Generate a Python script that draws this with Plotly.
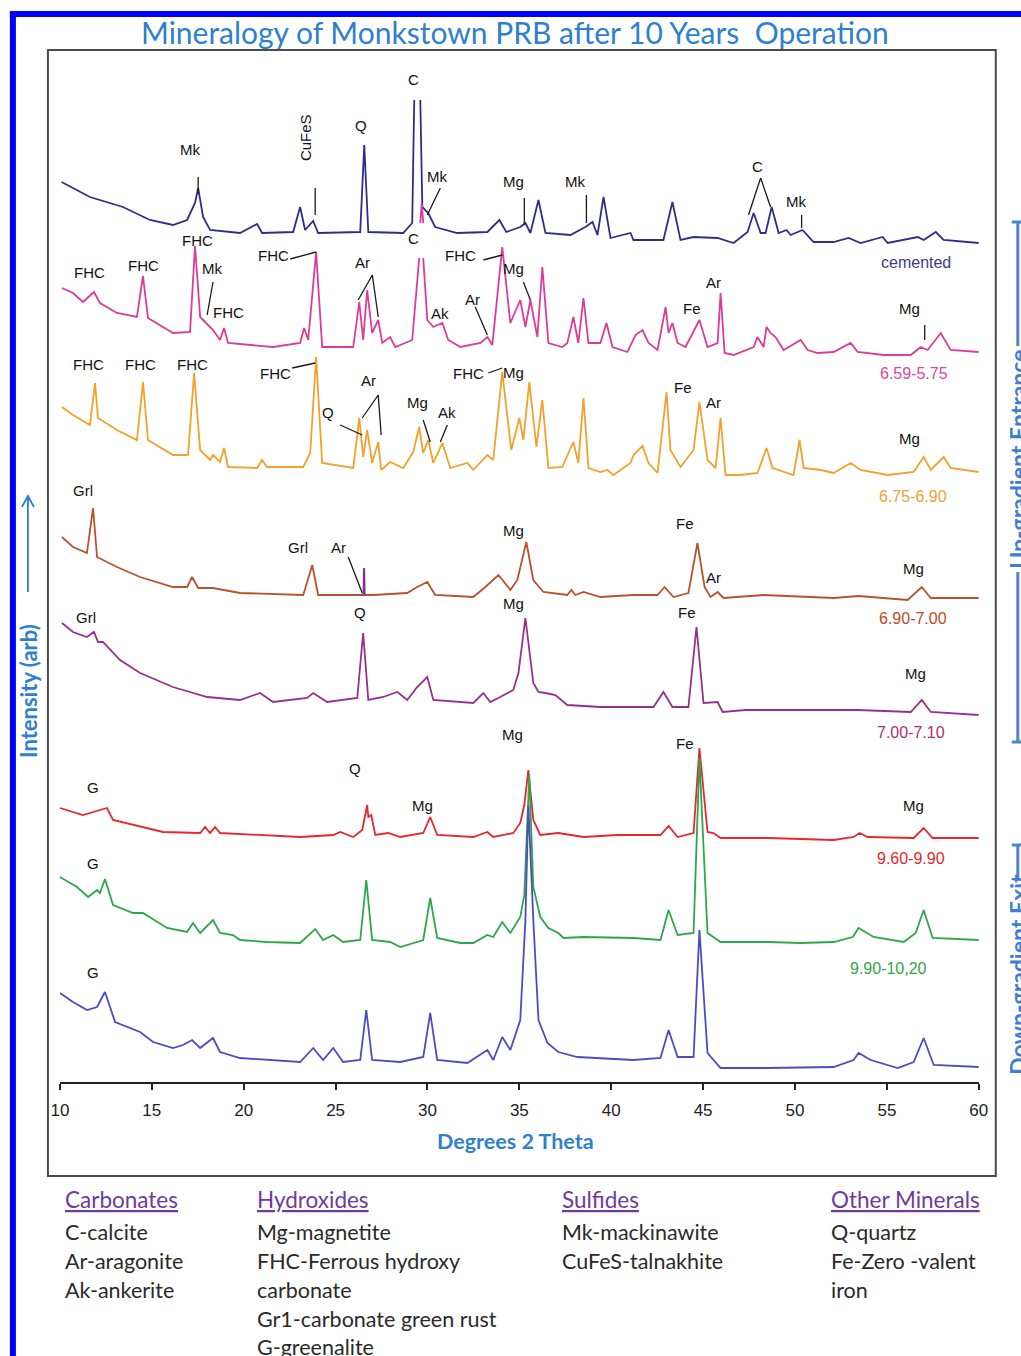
import plotly.graph_objects as go

# ---------------- data : (degrees 2-theta, stacked intensity in arb. units) ----------------
cemented = [(10.09, 900), (11.63, 885), (13.43, 875), (14.90, 862), (16.15, 857), (16.92, 862), (17.35, 879),
            (17.52, 894), (17.79, 865), (18.17, 852), (19.80, 849), (20.73, 858), (21.00, 849), (22.69, 850),
            (23.07, 875), (23.34, 852), (23.78, 861), (24.05, 849), (26.34, 850), (26.56, 937), (26.78, 850),
            (28.68, 849), (29.17, 859), (29.28, 982), (29.45, None), (29.61, 982), (29.72, 875), (30.04, 869),
            (30.42, 855), (31.62, 849), (33.26, 850), (33.91, 862), (34.29, 850), (35.05, 855), (35.33, 859),
            (35.60, 849), (36.04, 882), (36.42, 849), (37.78, 847), (38.59, 855), (38.98, 860), (39.25, 847),
            (39.58, 885), (39.96, 844), (41.05, 849), (41.21, 842), (42.84, 842), (43.33, 880), (43.77, 842),
            (44.48, 845), (45.79, 844), (46.66, 839), (47.42, 850), (47.75, 869), (48.13, 849), (48.40, 849),
            (48.73, 875), (49.11, 849), (49.54, 852), (49.76, 847), (50.41, 852), (51.01, 840), (52.10, 840),
            (52.92, 844), (53.57, 839), (54.77, 845), (55.04, 839), (56.68, 845), (57.00, 842), (57.66, 850),
            (58.09, 842), (60.00, 839)]

s_659_575 = [(10.11, 794), (10.71, 789), (11.25, 780), (11.85, 790), (12.18, 779), (13.10, 769), (14.19, 765),
             (14.52, 806), (14.79, 764), (16.15, 749), (17.08, 750), (17.35, 836), (17.63, 765), (18.33, 752),
             (18.71, 742), (18.93, 754), (19.15, 739), (21.60, 735), (23.07, 739), (23.29, 754), (23.51, 742),
             (23.94, 830), (24.27, 735), (25.96, 735), (26.29, 780), (26.50, 742), (26.72, 792), (26.99, 749),
             (27.32, 762), (27.54, 739), (27.97, 745), (28.25, 735), (29.17, 742), (29.55, 824), (29.58, None),
             (29.61, 859), (29.69, 879), (29.77, 859), (29.77, None), (29.77, 824), (29.99, 762), (30.32, 755),
             (30.81, 759), (31.13, 742), (31.79, 735), (32.88, 739), (33.26, 745), (33.53, 737), (34.07, 835),
             (34.51, 759), (35.05, 782), (35.33, 755), (35.60, 782), (35.98, 745), (36.25, 815), (36.58, 739),
             (37.34, 735), (37.61, 739), (37.94, 765), (38.21, 739), (38.49, 784), (38.76, 739), (39.41, 739),
             (39.74, 759), (40.07, 735), (40.88, 730), (41.32, 747), (41.70, 752), (42.03, 739), (42.52, 732),
             (42.96, 775), (43.12, 749), (43.33, 759), (43.61, 739), (44.04, 735), (44.80, 762), (45.24, 735),
             (45.79, 739), (45.95, 789), (46.17, 729), (46.66, 727), (47.75, 735), (47.96, 745), (48.29, 735),
             (48.45, 755), (48.67, 749), (48.94, 745), (49.38, 732), (50.31, 742), (50.69, 732), (51.23, 729),
             (52.10, 730), (53.03, 739), (53.41, 730), (54.83, 727), (56.30, 727), (56.84, 735), (57.22, 732),
             (57.93, 749), (58.47, 732), (60.00, 730)]

s_675_690 = [(10.11, 675), (10.71, 667), (11.63, 657), (11.91, 699), (12.07, 664), (13.10, 652), (14.19, 642),
             (14.52, 700), (14.79, 642), (16.15, 627), (16.97, 627), (17.30, 709), (17.63, 632), (18.17, 622),
             (18.33, 627), (18.71, 620), (18.93, 634), (19.15, 615), (20.73, 614), (21.00, 622), (21.27, 615),
             (23.24, 615), (23.62, 629), (23.94, 725), (24.27, 619), (25.96, 614), (26.29, 664), (26.50, 625),
             (26.72, 652), (26.99, 619), (27.32, 640), (27.48, 612), (27.97, 620), (28.68, 614), (29.23, 630),
             (29.55, 655), (29.77, 629), (30.04, 642), (30.32, 619), (30.81, 639), (31.24, 614), (32.17, 619),
             (32.49, 612), (33.26, 627), (33.58, 622), (34.07, 710), (34.56, 632), (35.00, 664), (35.22, 642),
             (35.54, 700), (35.93, 635), (36.25, 682), (36.58, 614), (37.34, 615), (37.67, 629), (37.94, 640),
             (38.21, 619), (38.49, 684), (38.76, 614), (39.41, 610), (39.79, 612), (40.12, 607), (41.05, 619),
             (41.21, 627), (41.70, 636), (42.03, 619), (42.52, 609), (43.01, 690), (43.22, 632), (43.77, 615),
             (44.48, 632), (44.80, 680), (45.24, 622), (45.68, 614), (45.95, 664), (46.22, 607), (47.04, 607),
             (47.96, 609), (48.45, 634), (48.78, 614), (49.92, 607), (50.25, 642), (50.47, 614), (51.39, 612),
             (52.10, 609), (53.03, 619), (53.57, 612), (55.04, 607), (56.46, 610), (57.00, 625), (57.39, 612),
             (58.09, 625), (58.47, 614), (60.00, 610)]

s_690_700 = [(10.11, 545), (10.71, 535), (11.47, 529), (11.80, 574), (12.02, 525), (13.10, 515), (14.36, 505),
             (16.15, 495), (16.92, 495), (17.19, 505), (17.52, 494), (18.33, 494), (19.80, 489), (23.24, 487),
             (23.73, 517), (24.05, 487), (26.18, 487), (27.05, 487), (28.90, 489), (29.44, 495), (29.99, 500),
             (30.42, 487), (32.49, 485), (33.15, 495), (33.86, 507), (34.51, 492), (34.89, 502), (35.38, 540),
             (35.76, 502), (36.31, 490), (37.61, 487), (37.83, 492), (38.05, 487), (38.49, 490), (39.41, 485),
             (41.21, 487), (42.52, 487), (42.90, 495), (43.39, 485), (44.20, 489), (44.69, 539), (45.08, 495),
             (45.40, 485), (45.79, 490), (46.11, 484), (48.29, 487), (52.10, 484), (53.46, 486), (56.13, 482),
             (56.90, 495), (57.39, 484), (60.00, 484)]

aragonite_spike = [(26.52, 487), (26.55, 514), (26.58, 487)]

s_700_710 = [(10.11, 459), (10.71, 450), (11.47, 445), (11.85, 450), (12.07, 440), (12.34, 440), (13.27, 422),
             (14.36, 409), (16.15, 395), (18.01, 385), (19.80, 382), (20.89, 389), (21.60, 380), (23.45, 384),
             (23.78, 389), (24.54, 380), (26.18, 384), (26.50, 449), (26.78, 382), (27.59, 385), (28.36, 390),
             (28.90, 382), (29.44, 395), (29.99, 405), (30.32, 382), (32.49, 379), (33.04, 389), (33.42, 380),
             (33.96, 385), (34.67, 392), (34.95, 409), (35.33, 464), (35.76, 399), (36.04, 390), (36.42, 389),
             (36.96, 387), (37.61, 377), (39.41, 375), (42.30, 375), (42.84, 390), (43.33, 375), (44.20, 375),
             (44.64, 455), (45.02, 379), (45.79, 380), (46.06, 370), (47.31, 372), (50.31, 372), (53.41, 372),
             (56.30, 370), (56.90, 382), (57.39, 370), (60.00, 367)]

s_960_990 = [(10.00, 274), (11.25, 267), (12.18, 272), (12.56, 274), (12.89, 262), (13.98, 257), (15.61, 250),
             (17.63, 249), (17.90, 255), (18.17, 249), (18.44, 255), (18.71, 249), (20.89, 247), (23.07, 245),
             (24.87, 247), (25.25, 250), (25.96, 245), (26.45, 252), (26.72, 277), (26.78, 265), (26.94, 267),
             (27.16, 247), (27.86, 249), (28.52, 245), (29.77, 249), (30.15, 265), (30.53, 247), (32.49, 245),
             (33.26, 250), (33.58, 245), (34.67, 249), (35.05, 259), (35.27, 277), (35.49, 312), (35.76, 262),
             (36.14, 247), (37.12, 249), (38.49, 245), (40.34, 247), (42.68, 247), (43.12, 256), (43.61, 245),
             (44.48, 249), (44.80, 334), (45.24, 250), (45.57, 249), (45.95, 244), (48.51, 244), (52.10, 242),
             (53.19, 245), (53.52, 249), (53.95, 245), (56.46, 244), (57.00, 254), (57.49, 244), (60.00, 244)]

s_990_1020 = [(10.00, 205), (10.93, 195), (11.53, 185), (12.02, 192), (12.18, 189), (12.45, 203), (12.89, 177),
              (13.98, 169), (14.52, 169), (15.83, 154), (16.92, 150), (17.24, 159), (17.63, 149), (18.33, 162),
              (18.71, 149), (19.42, 147), (19.80, 142), (21.27, 140), (23.07, 139), (23.89, 153), (24.32, 142),
              (24.87, 147), (25.41, 140), (26.34, 142), (26.67, 202), (26.99, 142), (27.97, 140), (28.52, 135),
              (29.77, 142), (30.15, 184), (30.53, 144), (31.79, 139), (32.49, 139), (33.26, 147), (33.58, 145),
              (34.07, 160), (34.51, 149), (35.05, 165), (35.27, 187), (35.54, 307), (35.76, 195), (36.14, 165),
              (36.58, 154), (37.12, 149), (37.40, 144), (38.49, 145), (41.21, 144), (42.68, 142), (43.12, 172),
              (43.61, 147), (44.48, 149), (44.80, 324), (45.24, 149), (45.95, 140), (48.51, 140), (50.31, 139),
              (52.10, 140), (53.14, 145), (53.46, 154), (54.28, 145), (55.92, 140), (56.57, 149), (57.00, 172),
              (57.49, 144), (60.00, 142)]

s_1020_1050 = [(10.00, 89), (10.71, 80), (11.47, 72), (12.02, 75), (12.45, 90), (13.00, 60), (14.36, 50),
               (15.07, 40), (16.15, 34), (16.70, 37), (17.19, 42), (17.63, 34), (18.33, 44), (18.71, 30),
               (19.80, 24), (23.07, 20), (23.78, 34), (24.32, 22), (24.87, 34), (25.41, 20), (26.34, 22),
               (26.67, 72), (26.99, 22), (28.52, 20), (29.77, 25), (30.15, 69), (30.53, 22), (32.17, 19),
               (33.26, 32), (33.58, 22), (34.07, 45), (34.51, 32), (35.05, 62), (35.33, 162), (35.49, 277),
               (35.76, 162), (36.04, 62), (36.53, 39), (37.12, 30), (38.16, 25), (41.21, 22), (42.68, 24),
               (43.12, 52), (43.61, 25), (44.48, 25), (44.80, 152), (45.24, 29), (45.95, 14), (48.51, 14),
               (52.10, 15), (53.19, 22), (53.46, 29), (54.12, 22), (55.59, 14), (56.46, 20), (57.00, 44),
               (57.55, 17), (60.00, 15)]

sample_names = ["cemented", "6.59-5.75", "6.75-6.90", "6.90-7.00", "7.00-7.10",
                "9.60-9.90", "9.90-10,20", "10.20-10.50"]
sample_series = [cemented, s_659_575, s_675_690, s_690_700, s_700_710, s_960_990, s_990_1020, s_1020_1050]

tick_values = [10, 15, 20, 25, 30, 35, 40, 45, 50, 55, 60]

# peak identifications: (label, 2-theta, intensity, angle)
peak_labels = [
    ("Mk", 17.08, 933, 0), ("CuFeS", 23.34, 944, -90), ("Q", 26.39, 957, 0), ("C", 29.23, 1003, 0),
    ("Mk", 30.53, 906, 0), ("Mg", 34.67, 901, 0), ("Mk", 38.05, 901, 0), ("C", 47.96, 916, 0), ("Mk", 50.03, 881, 0),
    ("FHC", 11.63, 810, 0), ("FHC", 14.52, 817, 0), ("FHC", 17.46, 842, 0), ("Mk", 18.28, 814, 0),
    ("FHC", 19.15, 770, 0), ("FHC", 21.60, 827, 0), ("Ar", 26.45, 820, 0), ("C", 29.23, 844, 0),
    ("Ak", 30.70, 769, 0), ("FHC", 31.79, 827, 0), ("Ar", 32.44, 783, 0), ("Mg", 34.67, 814, 0),
    ("Fe", 44.42, 774, 0), ("Ar", 45.57, 800, 0), ("Mg", 56.24, 774, 0),
    ("FHC", 11.53, 718, 0), ("FHC", 14.36, 718, 0), ("FHC", 17.19, 718, 0), ("FHC", 21.71, 709, 0),
    ("Q", 24.60, 670, 0), ("Ar", 26.78, 702, 0), ("Mg", 29.44, 680, 0), ("Ak", 31.08, 670, 0),
    ("FHC", 32.22, 709, 0), ("Mg", 34.67, 710, 0), ("Fe", 43.93, 695, 0), ("Ar", 45.57, 680, 0), ("Mg", 56.24, 644, 0),
    ("Grl", 11.25, 592, 0), ("Grl", 22.96, 535, 0), ("Ar", 25.14, 535, 0), ("Mg", 34.67, 552, 0),
    ("Fe", 44.04, 559, 0), ("Ar", 45.57, 505, 0), ("Mg", 56.46, 514, 0),
    ("Grl", 11.42, 465, 0), ("Q", 26.34, 470, 0), ("Mg", 34.67, 479, 0), ("Fe", 44.15, 470, 0), ("Mg", 56.57, 409, 0),
    ("G", 11.80, 295, 0), ("Q", 26.07, 314, 0), ("Mg", 29.72, 277, 0), ("Mg", 34.62, 348, 0),
    ("Fe", 44.04, 339, 0), ("Mg", 56.46, 277, 0),
    ("G", 11.80, 219, 0), ("G", 11.80, 110, 0),
]
# sample name label positions (2-theta, intensity)
sample_label_pos = [(56.57, 820), (56.46, 709), (56.41, 586), (56.41, 464), (56.30, 350),
                    (56.30, 224), (55.10, 114), (55.37, -8)]
# leader lines (x0, y0, x1, y1) in data units
leaders = [
    (17.52, 905, 17.52, 888), (23.89, 894, 23.89, 867), (30.70, 894, 29.99, 867), (35.27, 884, 35.27, 857),
    (38.65, 887, 38.65, 859), (48.13, 904, 47.47, 867), (48.13, 904, 48.67, 875), (50.36, 867, 50.36, 854),
    (18.33, 800, 18.01, 767), (22.53, 823, 23.94, 830), (27.0, 807, 26.23, 782), (27.0, 807, 27.32, 765),
    (32.60, 775, 33.26, 747), (33.04, 822, 34.07, 827), (35.22, 800, 35.60, 782), (57.06, 757, 57.06, 742),
    (22.64, 714, 23.89, 719), (27.32, 687, 26.45, 664), (27.32, 687, 27.48, 647), (25.25, 657, 26.45, 647),
    (29.77, 662, 30.15, 640), (31.08, 657, 30.70, 640), (33.31, 709, 34.07, 714),
    (25.69, 525, 26.45, 489),
]

legend_columns = [
    ("Carbonates", ["C-calcite", "Ar-aragonite", "Ak-ankerite"]),
    ("Hydroxides", ["Mg-magnetite", "FHC-Ferrous hydroxy", "carbonate", "Gr1-carbonate green rust", "G-greenalite"]),
    ("Sulfides", ["Mk-mackinawite", "CuFeS-talnakhite"]),
    ("Other Minerals", ["Q-quartz", "Fe-Zero -valent", "iron"]),
]

# ---------------- styles / layout ----------------
line_colors = ["#2e2d88", "#dc3c96", "#f4a02c", "#b8522c", "#96308e", "#e8262e", "#2ca84a", "#4c4cc0"]
name_colors = ["#3a3a8c", "#d64aa0", "#f0a030", "#b84a2a", "#a8306e", "#e02a2a", "#30a848", "#5555bb"]
BLUE = "#2f7fcf"
SIDE = "#3f7fcb"
ARIAL = "Liberation Sans, Arial, sans-serif"
CAL = "Lato, Open Sans, sans-serif"

W, H = 1021, 1356
# horizontal calibration of the photographed page (measured from earlier renders)
SX, DX = 0.9815, 9.1


def px(x):
    return (x - DX) / SX / W


def py(y):
    return 1 - y / H


fig = go.Figure()
for series, col in zip(sample_series, line_colors):
    fig.add_trace(go.Scatter(x=[p[0] for p in series], y=[p[1] for p in series], mode="lines",
                             line=dict(color=col, width=1.8), connectgaps=False,
                             hoverinfo="skip", showlegend=False))
fig.add_trace(go.Scatter(x=[p[0] for p in aragonite_spike], y=[p[1] for p in aragonite_spike], mode="lines",
                         line=dict(color="#8a2a9a", width=2), hoverinfo="skip", showlegend=False))

annotations = []
for text, x, y, ang in peak_labels:
    annotations.append(dict(x=x, y=y, xref="x", yref="y", text=text, showarrow=False, textangle=ang,
                            xanchor="center", yanchor="middle",
                            font=dict(family=ARIAL, size=15, color="#111111")))
for name, (x, y), col in zip(sample_names, sample_label_pos, name_colors):
    annotations.append(dict(x=x, y=y, xref="x", yref="y", text=name, showarrow=False,
                            xanchor="center", yanchor="middle",
                            font=dict(family=ARIAL, size=16, color=col)))


def paper_text(x, y, text, size, color, angle=0, xanchor="center", family=CAL, **fkw):
    return dict(x=px(x), y=py(y), xref="paper", yref="paper", showarrow=False, text=text,
                textangle=angle, xanchor=xanchor, yanchor="middle",
                font=dict(family=family, size=size, color=color, **fkw))


annotations.append(paper_text(515, 32, "Mineralogy of Monkstown PRB after 10 Years\u00a0 Operation", 30, BLUE))
annotations.append(paper_text(515, 1141, "<b>Degrees 2 Theta</b>", 21.5, BLUE))
annotations.append(paper_text(28, 691, "<b>Intensity (arb)</b>", 22, BLUE, angle=-90))
annotations.append(paper_text(1017, 459, "<b>Up-gradient Entrance</b>", 23, SIDE, angle=-90))
annotations.append(paper_text(1017, 974, "<b>Down-gradient Exit</b>", 23, SIDE, angle=-90))

# legend block
col_x = [63, 255, 560, 828]
row_y = [1232, 1261, 1290, 1319, 1347]
for (head, items), cx in zip(legend_columns, col_x):
    annotations.append(paper_text(cx, 1199, head, 22.5, "#6f3aa0", xanchor="left", lineposition="under"))
    for item, ry in zip(items, row_y):
        annotations.append(paper_text(cx, ry, item, 21.5, "#2a2a2a", xanchor="left"))

shapes = []
for x0, y0, x1, y1 in leaders:
    shapes.append(dict(type="line", xref="x", yref="y", x0=x0, y0=y0, x1=x1, y1=y1,
                       line=dict(color="#1a1a1a", width=1.3)))
# outer blue border
shapes.append(dict(type="rect", xref="paper", yref="paper", x0=px(10), x1=px(16), y0=py(1360), y1=py(11),
                   fillcolor="#0000ff", line=dict(width=0)))
shapes.append(dict(type="rect", xref="paper", yref="paper", x0=px(10), x1=1.01, y0=py(17), y1=py(11),
                   fillcolor="#0000ff", line=dict(width=0)))
# chart frame
shapes.append(dict(type="rect", xref="paper", yref="paper", x0=px(48), x1=px(995), y0=py(1176), y1=py(50),
                   line=dict(color="#4a4a4a", width=2)))
# intensity arrow
shapes.append(dict(type="path", xref="paper", yref="paper",
                   path=f"M {px(28)} {py(592)} L {px(28)} {py(496)} M {px(22)} {py(507)} L {px(28)} {py(496)} L {px(34)} {py(507)}",
                   line=dict(color=BLUE, width=1.8)))
# right side brackets
for y0, y1 in [(222, 346), (572, 742), (845, 879)]:
    shapes.append(dict(type="line", xref="paper", yref="paper", x0=px(1017), x1=px(1017), y0=py(y0), y1=py(y1),
                       line=dict(color="#4a86c8", width=3)))
for yc in [222, 742, 845]:
    shapes.append(dict(type="line", xref="paper", yref="paper", x0=px(1011), x1=1.01, y0=py(yc), y1=py(yc),
                       line=dict(color="#4a86c8", width=3)))

fig.update_layout(
    width=W, height=H, margin=dict(l=0, r=0, t=0, b=0),
    paper_bgcolor="white", plot_bgcolor="white",
    xaxis=dict(domain=[px(60), px(978)], range=[10, 60], showline=True, linecolor="#222", linewidth=1.5,
               ticks="outside", ticklen=6, tickwidth=1.5, tickcolor="#222", tickvals=tick_values,
               tickfont=dict(family=ARIAL, size=17, color="#222"), showgrid=False, zeroline=False,
               ticklabelstandoff=6, fixedrange=True),
    yaxis=dict(domain=[py(1082), py(50)], range=[0, 1032], visible=False, fixedrange=True),
    annotations=annotations, shapes=shapes, showlegend=False,
)

fig.write_html("out.html", config={"displayModeBar": False},
               post_script="document.body.style.margin='0px';")
